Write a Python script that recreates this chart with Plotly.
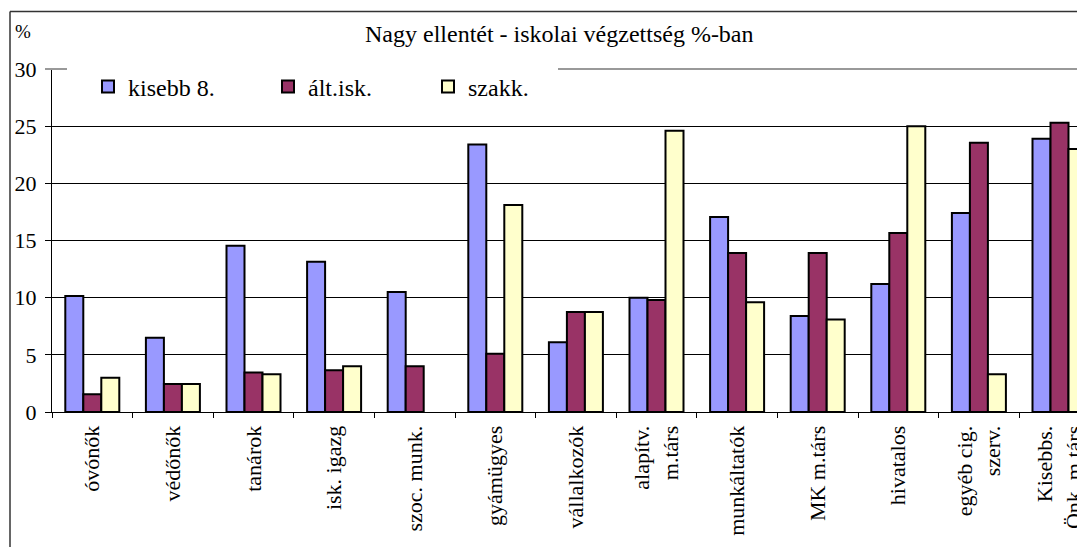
import plotly.graph_objects as go

categories = ["óvónők", "védőnők", "tanárok", "isk. igazg", "szoc. munk.", "gyámügyes",
              "vállalkozók", "alapítv.<br>m.társ", "munkáltatók", "MK m.társ", "hivatalos",
              "egyéb cig.<br>szerv.", "Kisebbs.<br>Önk. m.társ"]
kisebb8 = [10.15, 6.5, 14.55, 13.15, 10.5, 23.4, 6.1, 10.0, 17.05, 8.4, 11.2, 17.4, 23.9]
altisk = [1.55, 2.45, 3.45, 3.65, 4.0, 5.1, 8.75, 9.8, 13.9, 13.9, 15.65, 23.55, 25.3]
szakk = [3.0, 2.45, 3.3, 4.0, None, 18.1, 8.75, 24.6, 9.6, 8.1, 25.0, 3.3, 23.0]
series_names = ["kisebb 8.", "ált.isk.", "szakk."]
y_ticks = [0, 5, 10, 15, 20, 25, 30]

colors = ["#9999FF", "#993366", "#FFFFCC"]
FONT = '"Liberation Serif", "Times New Roman", "DejaVu Serif", serif'

# page body has an 8px margin: figure is drawn from (8, 8) of the window
OFF = 8
WIN_W, WIN_H = 1085, 547
W, H = WIN_W - OFF, WIN_H - OFF
# plot area in window pixels
PL, PT, PB, PR = 52, 69, 412, 1085
L, T = PL - OFF, PT - OFF
B = H - (PB - OFF)
R = W - (PR - OFF)
PW, PH = W - L - R, H - T - B


def px_x(px):
    return (px - PL) / PW


def px_y(py):
    return (PB - py) / PH


fig = go.Figure()
legends = ["legend", "legend2", "legend3"]
for name, vals, col, lg in zip(series_names, [kisebb8, altisk, szakk], colors, legends):
    fig.add_trace(go.Bar(
        x=categories, y=vals, name=name, legend=lg, showlegend=True,
        marker=dict(color=col, line=dict(color="black", width=2)),
    ))

step = 80.6
span = PW / step
leg_common = dict(orientation="h", bgcolor="rgba(0,0,0,0)", borderwidth=0,
                  font=dict(family=FONT, size=24, color="black"),
                  xanchor="left", yanchor="middle", y=px_y(87), itemwidth=30)

fig.update_layout(
    template="none",
    width=W, height=H, autosize=False, showlegend=True,
    margin=dict(l=L, r=R, t=T, b=B, pad=0),
    paper_bgcolor="white", plot_bgcolor="white",
    barmode="group", bargap=0.33, bargroupgap=0,
    font=dict(family=FONT, size=22, color="black"),
    legend=dict(x=px_x(88), **leg_common),
    legend2=dict(x=px_x(268), **leg_common),
    legend3=dict(x=px_x(428), **leg_common),
    xaxis=dict(
        type="category", range=[-0.5, -0.5 + span], automargin=False,
        showline=True, linecolor="black", linewidth=1,
        ticks="outside", ticklen=5, tickcolor="black", tickson="boundaries",
        tickangle=-90, tickfont=dict(family=FONT, size=22, color="black"),
        ticklabelstandoff=4,
        showgrid=False, zeroline=False,
    ),
    yaxis=dict(
        range=[0, 30], tickvals=y_ticks, automargin=False,
        showline=True, linecolor="black", linewidth=1,
        ticks="outside", ticklen=6, tickcolor="black",
        ticklabelstandoff=4,
        showgrid=True, gridcolor="black", gridwidth=1,
        zeroline=False,
        tickfont=dict(family=FONT, size=22, color="black"),
    ),
    shapes=[
        # gray plot-area top border at 30
        dict(type="line", xref="paper", yref="paper", x0=px_x(45), x1=1.0, y0=1.0, y1=1.0,
             line=dict(color="#999999", width=2), layer="above"),
        # outer chart frame
        dict(type="line", xref="paper", yref="paper", x0=px_x(10), x1=px_x(10),
             y0=px_y(547), y1=px_y(11.5), line=dict(color="#333333", width=1.5), layer="above"),
        dict(type="line", xref="paper", yref="paper", x0=px_x(10), x1=1.0,
             y0=px_y(11.5), y1=px_y(11.5), line=dict(color="#333333", width=1.5), layer="above"),
    ],
    annotations=[
        dict(text="%", xref="paper", yref="paper", x=px_x(23), y=px_y(32),
             xanchor="center", yanchor="middle", showarrow=False,
             font=dict(family=FONT, size=19, color="black")),
        dict(text="Nagy ellentét - iskolai végzettség %-ban", xref="paper", yref="paper",
             x=px_x(559), y=px_y(34), xanchor="center", yanchor="middle", showarrow=False,
             font=dict(family=FONT, size=24, color="black")),
    ],
)

# white box behind legend hiding the gray border line
fig.add_shape(type="rect", xref="paper", yref="paper", x0=px_x(67), x1=px_x(558),
              y0=px_y(74), y1=px_y(64), fillcolor="white", line=dict(width=0), layer="above")

fig.write_html("out.html")
